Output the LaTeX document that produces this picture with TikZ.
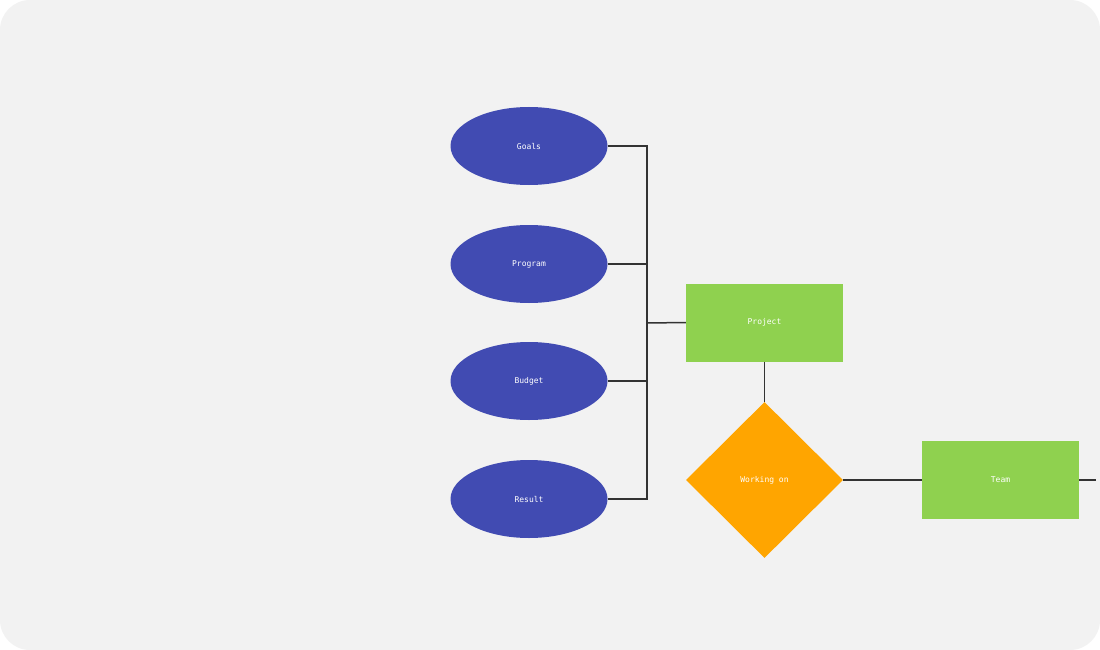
\documentclass[tikz,border=0pt]{standalone}
\usepackage{fontspec}
\setmonofont{DejaVu Sans Mono}
\usetikzlibrary{shapes.geometric}
\definecolor{bgray}{HTML}{F2F2F2}
\definecolor{eblue}{HTML}{414BB2}
\definecolor{rgreen}{HTML}{8FD14F}
\definecolor{dorange}{HTML}{FFA500}
\tikzset{
	attr/.style={ellipse,fill=eblue,minimum width=157pt,minimum height=78pt,inner sep=0pt},
	ent/.style={rectangle,fill=rgreen,minimum width=157pt,minimum height=78pt,inner sep=0pt},
	rel/.style={diamond,fill=dorange,minimum width=157pt,minimum height=156pt,inner sep=0pt},
	link/.style={draw=black!80,line width=1.5pt}
}
\begin{document}
\begin{tikzpicture}[x=1pt,y=-1pt,font=\ttfamily\fontsize{8}{10}\selectfont,text=white]
	\useasboundingbox (0,0) rectangle (1100,650);
	\fill[white] (0,0) rectangle (1100,650);
	\fill[bgray,rounded corners=30pt] (0,0) rectangle (1100,650);
	% attributes
	\node[attr] (goals) at (529,146) {Goals};
	\node[attr] (program) at (529,264) {Program};
	\node[attr] (budget) at (529,381) {Budget};
	\node[attr] (result) at (529,499) {Result};
	% entities and relation
	\node[ent] (project) at (764.5,322.5) {Project};
	\node[rel] (working) at (764.5,480) {Working on};
	\node[ent] (team) at (1000.5,480) {Team};
	\coordinate (bus) at (647,323);
	\coordinate (out) at (1096,480);
	% connectors
	\draw[link] (goals.east) -| (bus);
	\draw[link] (program.east) -| (bus);
	\draw[link] (budget.east) -| (bus);
	\draw[link] (result.east) -| (bus);
	\draw[link] (bus) -- (project.west);
	\draw[link] (project.south) -- (working.north);
	\draw[link] (working.east) -- (team.west);
	\draw[link] (team.east) -- (out);
\end{tikzpicture}
\end{document}
